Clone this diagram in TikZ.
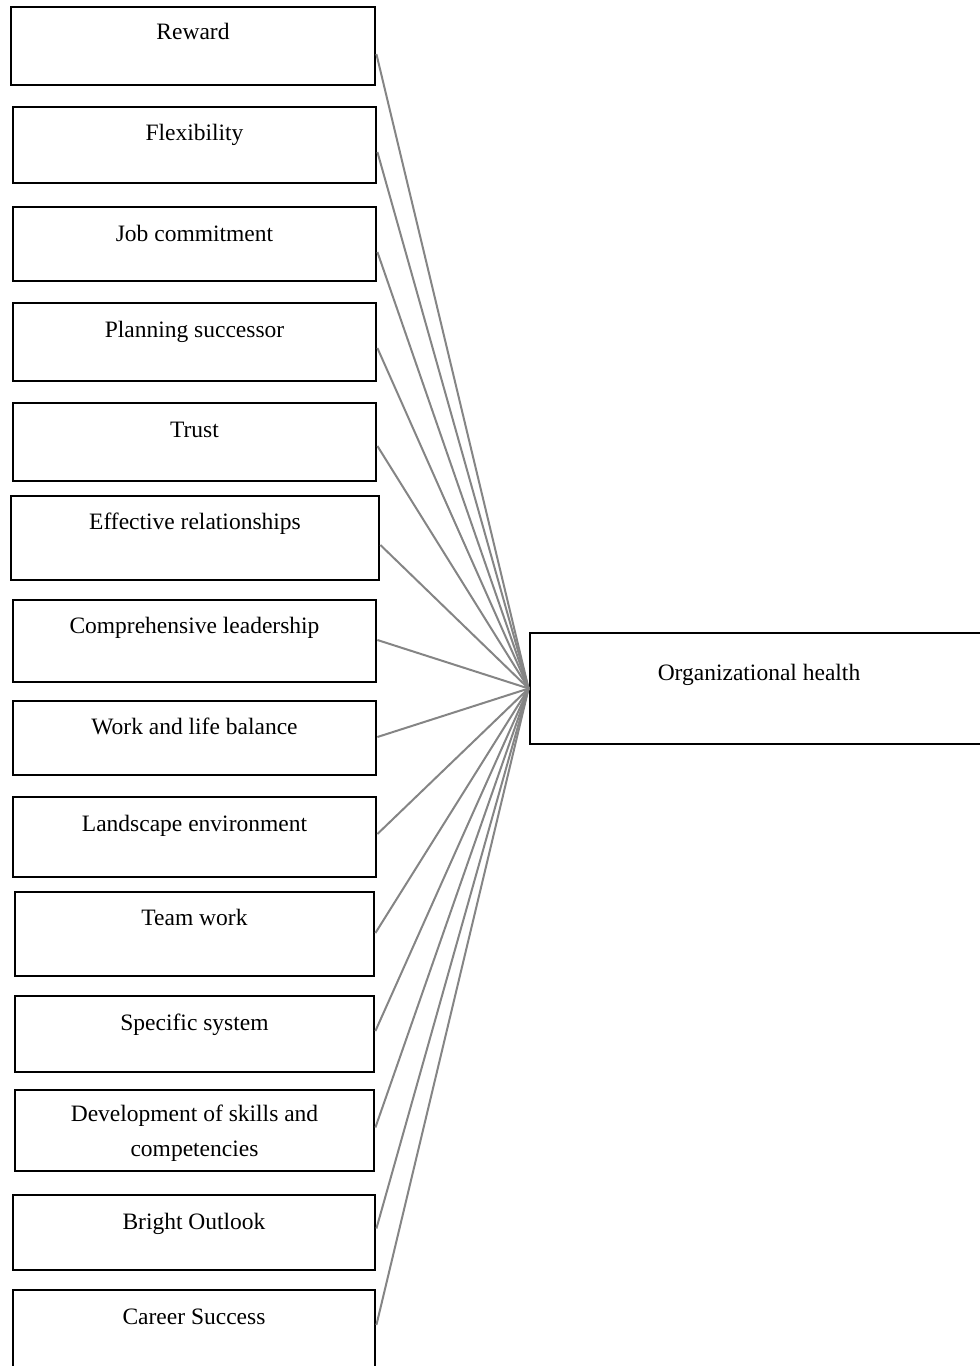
\documentclass[tikz,border=0pt]{standalone}
\usepackage{fontspec}
\setmainfont{Liberation Serif}
\begin{document}
\begin{tikzpicture}[x=1pt,y=-1pt,
  box/.style={draw=black, line width=2.8pt, fill=white, inner sep=0pt, rectangle},
  lbl/.style={font=\fontsize{23.5}{35}\selectfont, inner sep=0pt, anchor=base, align=center},
  link/.style={draw=black!48, line width=2pt}]
\useasboundingbox (0,0) rectangle (980,1366);
% name / cx / cy / w / h / baseline / text
\foreach \n/\cx/\cy/\w/\h/\b/\t in {
  a/193/46/364/78/39/Reward,
  b/194.5/145/363/76/140/Flexibility,
  c/194.5/244/363/74/241/Job commitment,
  d/194.5/342/363/78/337/Planning successor,
  e/194.5/442/363/78/437/Trust,
  f/195/538/368/84/529/Effective relationships,
  g/194.5/641/363/82/633/Comprehensive leadership,
  h/194.5/738/363/74/734/Work and life balance,
  i/194.5/837/363/80/831/Landscape environment,
  j/194.5/934/359/84/925/Team work,
  k/194.5/1034/359/76/1030/Specific system,
  m/194/1232.5/362/75/1229/Bright Outlook,
  n/194/1335/362/90/1324/Career Success}{
  \node[box, minimum width=\w pt, minimum height=\h pt] (\n) at (\cx,\cy) {};
  \node[lbl] (\n t) at (\cx,\b) {\t};
}
\node[box, minimum width=359pt, minimum height=81pt] (l) at (194.5,1130.5) {};
\node[lbl, anchor=center] (lt) at (194.5,1133) {Development of skills and\\competencies};
\node[box, minimum width=470pt, minimum height=111pt] (org) at (765,688.5) {};
\node[lbl] (orgt) at (759,680) {Organizational health};
\foreach \n/\s in {a/8,b/7,c/8,d/6,e/4,f/7,g/-1,h/-1,i/-3,j/-1,k/-3,l/-3,m/-4,n/-10}{
  \draw[link] ([yshift=-\s pt]\n.east) -- (org.west);
}
\end{tikzpicture}
\end{document}
